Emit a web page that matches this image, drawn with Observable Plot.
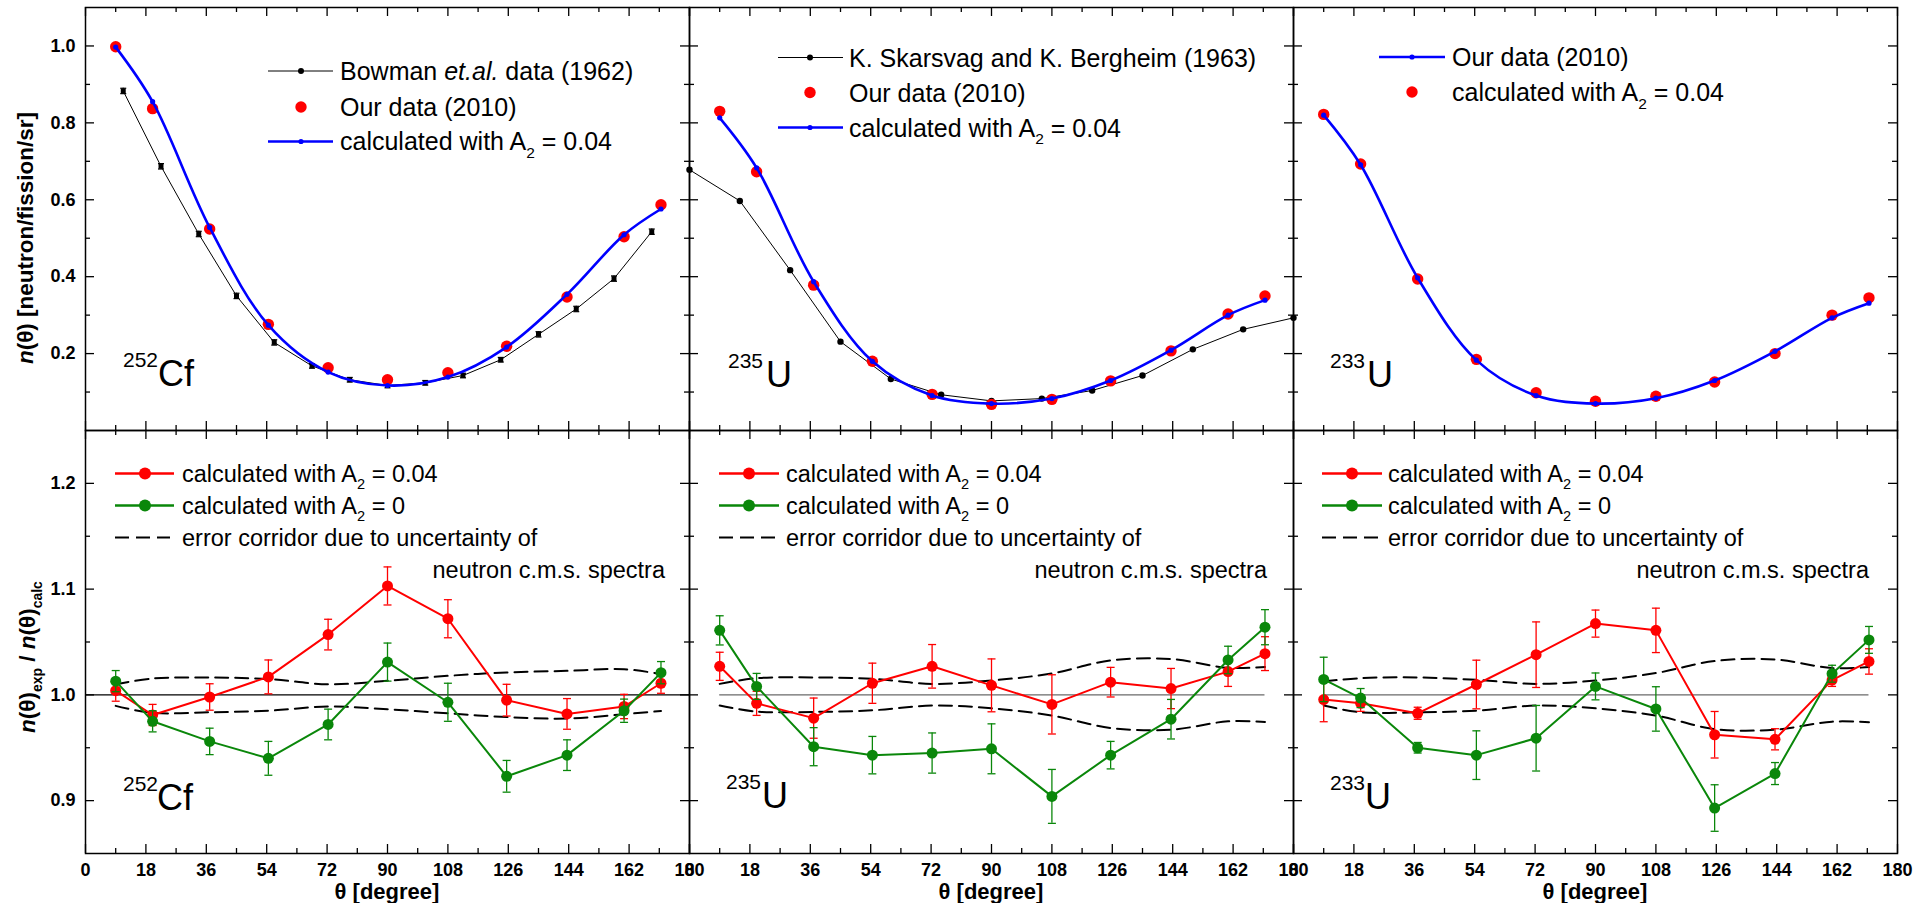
<!DOCTYPE html>
<html><head><meta charset="utf-8">
<script src="https://cdn.jsdelivr.net/npm/d3@7"></script>
<script src="https://cdn.jsdelivr.net/npm/@observablehq/plot@0.6"></script>
<style>
body{margin:0;background:#fff;}
#wrap{position:relative;width:1927px;height:903px;overflow:hidden;background:#fff;}
</style></head><body><div id="wrap"></div>
<script>
// ---------------- DATA ----------------
const angles = [9, 20, 37, 54.5, 72.3, 90, 108, 125.5, 143.5, 160.5, 171.5];

const bowmanAngles = [11.25, 22.5, 33.75, 45, 56.25, 67.5, 78.75, 90, 101.25, 112.5, 123.75, 135, 146.25, 157.5, 168.75];
const bowmanValues = [0.883, 0.687, 0.511, 0.350, 0.229, 0.168, 0.132, 0.117, 0.124, 0.143, 0.184, 0.250, 0.316, 0.395, 0.517];
const bowmanErrors = [0.007, 0.007, 0.007, 0.007, 0.007, 0.006, 0.006, 0.006, 0.006, 0.006, 0.006, 0.007, 0.007, 0.007, 0.007];

const skarsvagAngles = [0, 15, 30, 45, 60, 75, 90, 105, 120, 135, 150, 165, 180];
const skarsvagValues = [0.678, 0.597, 0.417, 0.231, 0.134, 0.093, 0.077, 0.083, 0.104, 0.143, 0.211, 0.263, 0.293];

const cfOur   = [0.998, 0.837, 0.524, 0.276, 0.163, 0.132, 0.150, 0.219, 0.347, 0.504, 0.587];
const cfCalc  = [0.997, 0.855, 0.528, 0.274, 0.152, 0.117, 0.139, 0.217, 0.354, 0.509, 0.576];
const u235Our = [0.830, 0.673, 0.378, 0.180, 0.094, 0.068, 0.081, 0.129, 0.207, 0.303, 0.350];
const u235Calc= [0.813, 0.683, 0.387, 0.180, 0.091, 0.070, 0.083, 0.130, 0.209, 0.300, 0.339];
const u233Our = [0.822, 0.693, 0.394, 0.185, 0.098, 0.076, 0.089, 0.126, 0.200, 0.300, 0.345];
const u233Calc= [0.820, 0.691, 0.397, 0.183, 0.091, 0.070, 0.084, 0.130, 0.206, 0.293, 0.331];

// ratio n(θ)exp / n(θ)calc
const cfRatioA2     = [1.004, 0.981, 0.998, 1.017, 1.057, 1.103, 1.072, 0.995, 0.982, 0.989, 1.011];
const cfRatioA2Err  = [0.010, 0.010, 0.0125, 0.016, 0.0145, 0.018, 0.018, 0.015, 0.0145, 0.0115, 0.0095];
const cfRatioA0     = [1.013, 0.975, 0.956, 0.940, 0.972, 1.031, 0.993, 0.923, 0.943, 0.985, 1.021];
const cfRatioA0Err  = [0.010, 0.010, 0.0125, 0.016, 0.0145, 0.018, 0.018, 0.015, 0.0145, 0.011, 0.0105];
const cfCorrUpper   = [1.010, 1.0155, 1.0164, 1.015, 1.010, 1.0133, 1.018, 1.0212, 1.0227, 1.0243, 1.0196];
const cfCorrLower   = [0.9896, 0.983, 0.9836, 0.985, 0.989, 0.9864, 0.9826, 0.979, 0.9776, 0.9817, 0.9848];

const u235RatioA2    = [1.027, 0.992, 0.978, 1.011, 1.027, 1.009, 0.991, 1.012, 1.006, 1.022, 1.039];
const u235RatioA2Err = [0.0133, 0.0114, 0.019, 0.019, 0.0206, 0.025, 0.028, 0.014, 0.019, 0.014, 0.016];
const u235RatioA0    = [1.061, 1.008, 0.951, 0.943, 0.945, 0.949, 0.904, 0.943, 0.977, 1.033, 1.064];
const u235RatioA0Err = [0.0138, 0.0123, 0.018, 0.0177, 0.019, 0.0236, 0.0255, 0.013, 0.0187, 0.013, 0.0166];
const u235CorrUpper  = [1.0104, 1.0158, 1.0165, 1.0152, 1.0104, 1.0136, 1.0203, 1.0326, 1.0339, 1.0256, 1.0263];
const u235CorrLower  = [0.9899, 0.9842, 0.9839, 0.9854, 0.9899, 0.9873, 0.9804, 0.9687, 0.9671, 0.975, 0.9744];

const u233RatioA2    = [0.9956, 0.992, 0.9826, 1.0098, 1.038, 1.0674, 1.061, 0.9623, 0.958, 1.014, 1.0316];
const u233RatioA2Err = [0.021, 0.0076, 0.0057, 0.023, 0.031, 0.0128, 0.021, 0.022, 0.010, 0.006, 0.012];
const u233RatioA0    = [1.0146, 0.997, 0.950, 0.943, 0.959, 1.008, 0.9867, 0.893, 0.9256, 1.020, 1.052];
const u233RatioA0Err = [0.021, 0.009, 0.005, 0.023, 0.031, 0.0127, 0.021, 0.022, 0.0104, 0.008, 0.0127];
const u233CorrUpper  = [1.0127, 1.0158, 1.0165, 1.0142, 1.0104, 1.0136, 1.0206, 1.032, 1.0335, 1.0253, 1.0263];
const u233CorrLower  = [0.9899, 0.9835, 0.9835, 0.9851, 0.9899, 0.9873, 0.9804, 0.9677, 0.9671, 0.9747, 0.9741];

// ticks
const xTicksMajor = [0, 18, 36, 54, 72, 90, 108, 126, 144, 162, 180];
const xTicksMinor = [9, 27, 45, 63, 81, 99, 117, 135, 153, 171];
const topYTicks = [0.2, 0.4, 0.6, 0.8, 1.0];
const topYMinor = [0.1, 0.3, 0.5, 0.7, 0.9];
const botYTicks = [0.9, 1.0, 1.1, 1.2];
const botYMinor = [0.95, 1.05, 1.15];
const topYDomain = [0, 1.1];
const botYDomain = [0.85, 1.25];

const nuclides = [{mass: "252", sym: "Cf"}, {mass: "235", sym: "U"}, {mass: "233", sym: "U"}];

// ---------------- LAYOUT ----------------
const FONT = '"Liberation Sans", Arial, Helvetica, sans-serif';
const RED = "#ff0000", GREEN = "#0a870a", BLUE = "#0000ff";
const wrap = document.getElementById("wrap");
const colX = [85, 689, 1293];
const rowY = [7, 430];
const innerW = 604, innerH = 423;
const mL = 75, mR = 30, mT = 20, mB = 45;

const capSymbol = {draw(ctx, size) { const w = Math.sqrt(size / Math.PI); ctx.moveTo(-w, 0); ctx.lineTo(w, 0); }};

function frameTicks(yMajor, yMinor) {
  const s = {stroke: "black", strokeWidth: 1.3};
  return [
    Plot.tickX(xTicksMajor, {x: d => d, insetTop: innerH - 9, ...s}),
    Plot.tickX(xTicksMajor, {x: d => d, insetBottom: innerH - 9, ...s}),
    Plot.tickX(xTicksMinor, {x: d => d, insetTop: innerH - 5, ...s}),
    Plot.tickX(xTicksMinor, {x: d => d, insetBottom: innerH - 5, ...s}),
    Plot.tickY(yMajor, {y: d => d, insetRight: innerW - 9, ...s}),
    Plot.tickY(yMajor, {y: d => d, insetLeft: innerW - 9, ...s}),
    Plot.tickY(yMinor, {y: d => d, insetRight: innerW - 5, ...s}),
    Plot.tickY(yMinor, {y: d => d, insetLeft: innerW - 5, ...s})
  ];
}

function panel(row, col, marks) {
  const top = row === 0;
  const yMajor = top ? topYTicks : botYTicks;
  const yMinor = top ? topYMinor : botYMinor;
  const svg = Plot.plot({
    width: innerW + mL + mR, height: innerH + mT + mB,
    marginLeft: mL, marginRight: mR, marginTop: mT, marginBottom: mB,
    style: {background: "transparent", overflow: "visible", fontFamily: FONT, fontSize: "18px", fontWeight: "bold", color: "black"},
    x: {domain: [0, 180], ticks: xTicksMajor, tickFormat: d => String(d), tickSize: 0, tickPadding: 10, label: null, axis: top ? null : "bottom"},
    y: {domain: top ? topYDomain : botYDomain, ticks: yMajor, tickFormat: d => d.toFixed(1), tickSize: 0, tickPadding: 10, label: null, axis: col === 0 ? "left" : null},
    marks: [...marks, Plot.frame({stroke: "black", strokeWidth: 1.5}), ...frameTicks(yMajor, yMinor)]
  });
  svg.style.position = "absolute";
  svg.style.left = (colX[col] - mL) + "px";
  svg.style.top = (rowY[row] - mT) + "px";
  wrap.appendChild(svg);
}

// ---------------- TOP ROW ----------------
function topRows(our, calc) { return angles.map((a, i) => ({a, our: our[i], calc: calc[i]})); }
function ourCalcMarks(rows) {
  return [
    Plot.dot(rows, {x: "a", y: "our", r: 5.7, fill: RED}),
    Plot.line(rows, {x: "a", y: "calc", stroke: BLUE, strokeWidth: 2.6, curve: "catmull-rom"}),
    Plot.dot(rows, {x: "a", y: "calc", r: 2.6, fill: BLUE})
  ];
}
const bow = bowmanAngles.map((a, i) => ({a, v: bowmanValues[i], e: bowmanErrors[i]}));
panel(0, 0, [
  Plot.line(bow, {x: "a", y: "v", stroke: "black", strokeWidth: 1}),
  Plot.ruleX(bow, {x: "a", y1: d => d.v - d.e, y2: d => d.v + d.e, stroke: "black", strokeWidth: 1.2}),
  Plot.dot(bow, {x: "a", y: d => d.v + d.e, symbol: capSymbol, r: 3, stroke: "black", strokeWidth: 1.2}),
  Plot.dot(bow, {x: "a", y: d => d.v - d.e, symbol: capSymbol, r: 3, stroke: "black", strokeWidth: 1.2}),
  Plot.dot(bow, {x: "a", y: "v", symbol: "square", r: 2.8, fill: "black"}),
  ...ourCalcMarks(topRows(cfOur, cfCalc))
]);
const ska = skarsvagAngles.map((a, i) => ({a, v: skarsvagValues[i]}));
panel(0, 1, [
  Plot.line(ska, {x: "a", y: "v", stroke: "black", strokeWidth: 1}),
  Plot.dot(ska, {x: "a", y: "v", r: 3.2, fill: "black"}),
  ...ourCalcMarks(topRows(u235Our, u235Calc))
]);
panel(0, 2, ourCalcMarks(topRows(u233Our, u233Calc)));

// ---------------- BOTTOM ROW ----------------
function ratioMarks(a2, a2e, a0, a0e, up, lo, fullRef) {
  const rows = angles.map((a, i) => ({a, a2: a2[i], a2e: a2e[i], a0: a0[i], a0e: a0e[i], up: up[i], lo: lo[i]}));
  const series = (key, ekey, color) => [
    Plot.ruleX(rows, {x: "a", y1: d => d[key] - d[ekey], y2: d => d[key] + d[ekey], stroke: color, strokeWidth: 1.3}),
    Plot.dot(rows, {x: "a", y: d => d[key] + d[ekey], symbol: capSymbol, r: 4, stroke: color, strokeWidth: 1.3}),
    Plot.dot(rows, {x: "a", y: d => d[key] - d[ekey], symbol: capSymbol, r: 4, stroke: color, strokeWidth: 1.3}),
    Plot.line(rows, {x: "a", y: key, stroke: color, strokeWidth: 2}),
    Plot.dot(rows, {x: "a", y: key, r: 5.5, fill: color})
  ];
  return [
    fullRef ? Plot.ruleY([1], {stroke: "black", strokeWidth: 1.2})
            : Plot.ruleY([1], {x1: () => angles[0], x2: () => angles[angles.length - 1], stroke: "#6a6a6a", strokeWidth: 1.2}),
    Plot.line(rows, {x: "a", y: "up", stroke: "black", strokeWidth: 2, strokeDasharray: "13,7", curve: "catmull-rom"}),
    Plot.line(rows, {x: "a", y: "lo", stroke: "black", strokeWidth: 2, strokeDasharray: "13,7", curve: "catmull-rom"}),
    ...series("a2", "a2e", RED),
    ...series("a0", "a0e", GREEN)
  ];
}
panel(1, 0, ratioMarks(cfRatioA2, cfRatioA2Err, cfRatioA0, cfRatioA0Err, cfCorrUpper, cfCorrLower, true));
panel(1, 1, ratioMarks(u235RatioA2, u235RatioA2Err, u235RatioA0, u235RatioA0Err, u235CorrUpper, u235CorrLower, false));
panel(1, 2, ratioMarks(u233RatioA2, u233RatioA2Err, u233RatioA0, u233RatioA0Err, u233CorrUpper, u233CorrLower, false));

// ---------------- ANNOTATIONS ----------------
const ov = d3.create("svg").attr("width", 1927).attr("height", 903)
  .style("position", "absolute").style("left", "0px").style("top", "0px")
  .style("font-family", FONT).style("white-space", "pre").style("overflow", "visible");
wrap.appendChild(ov.node());

function richText(x, y, parts, size, opts = {}) {
  const t = ov.append("text").attr("x", x).attr("y", y).attr("font-size", size).attr("fill", "black");
  if (opts.anchor) t.attr("text-anchor", opts.anchor);
  if (opts.weight) t.attr("font-weight", opts.weight);
  if (opts.transform) t.attr("transform", opts.transform);
  let shift = 0;
  for (const p of parts) {
    const s = typeof p === "string" ? {t: p} : p;
    const ts = t.append("tspan").text(s.t);
    let target = 0;
    if (s.sub) { target = size * 0.3; ts.attr("font-size", size * 0.62); }
    if (target !== shift) { ts.attr("dy", target - shift); shift = target; }
    if (s.i) ts.attr("font-style", "italic");
  }
  return t;
}

function swatch(x1, x2, xm, y, {line, dot}) {
  if (line) ov.append("line").attr("x1", x1).attr("x2", x2).attr("y1", y).attr("y2", y)
    .attr("stroke", line.stroke).attr("stroke-width", line.width).attr("stroke-dasharray", line.dash || null);
  if (dot) ov.append("circle").attr("cx", xm).attr("cy", y).attr("r", dot.r).attr("fill", dot.fill);
}

const calcA2 = ["calculated with A", {t: "2", sub: true}, " = 0.04"];
const calcA0 = ["calculated with A", {t: "2", sub: true}, " = 0"];
const TOPFS = 25, BOTFS = 23.5;

// top-left legend
swatch(268, 333, 301, 71, {line: {stroke: "black", width: 1}, dot: {r: 3, fill: "black"}});
richText(340, 79.5, ["Bowman ", {t: "et.al.", i: true}, " data (1962)"], TOPFS);
swatch(268, 333, 301, 107, {dot: {r: 5.7, fill: RED}});
richText(340, 115.5, ["Our data (2010)"], TOPFS);
swatch(268, 333, 301, 141.5, {line: {stroke: BLUE, width: 2.6}, dot: {r: 2.6, fill: BLUE}});
richText(340, 150, calcA2, TOPFS);

// top-middle legend
swatch(778, 843, 810, 57.5, {line: {stroke: "black", width: 1}, dot: {r: 3, fill: "black"}});
richText(849, 66.5, ["K. Skarsvag and K. Bergheim (1963)"], TOPFS);
swatch(778, 843, 810, 92.5, {dot: {r: 5.7, fill: RED}});
richText(849, 101.5, ["Our data (2010)"], TOPFS);
swatch(778, 843, 810, 127.5, {line: {stroke: BLUE, width: 2.6}, dot: {r: 2.6, fill: BLUE}});
richText(849, 136.5, calcA2, TOPFS);

// top-right legend
swatch(1379, 1445, 1412, 57, {line: {stroke: BLUE, width: 2.6}, dot: {r: 2.6, fill: BLUE}});
richText(1452, 65.5, ["Our data (2010)"], TOPFS);
swatch(1379, 1445, 1412, 92, {dot: {r: 5.7, fill: RED}});
richText(1452, 101, calcA2, TOPFS);

// bottom legends
const botLeg = [
  {x1: 115, x2: 174, xm: 145, tx: 182, right: 665},
  {x1: 719, x2: 779, xm: 749, tx: 786, right: 1267},
  {x1: 1322, x2: 1382, xm: 1352, tx: 1388, right: 1869}
];
for (const L of botLeg) {
  swatch(L.x1, L.x2, L.xm, 473.5, {line: {stroke: RED, width: 2.5}, dot: {r: 6, fill: RED}});
  richText(L.tx, 482, calcA2, BOTFS);
  swatch(L.x1, L.x2, L.xm, 505.5, {line: {stroke: GREEN, width: 2.5}, dot: {r: 6, fill: GREEN}});
  richText(L.tx, 514, calcA0, BOTFS);
  swatch(L.x1, L.x2 - 4, L.xm, 537.5, {line: {stroke: "black", width: 2, dash: "14,7"}});
  richText(L.tx, 546, ["error corridor due to uncertainty of"], BOTFS);
  richText(L.right, 577.5, ["neutron c.m.s. spectra"], BOTFS, {anchor: "end"});
}

// nuclide labels
const nucPos = [
  [{sx: 123, mx: 158, b: 386}, {sx: 728, mx: 766, b: 387}, {sx: 1330, mx: 1367, b: 387}],
  [{sx: 123, mx: 157, b: 810}, {sx: 726, mx: 762, b: 808}, {sx: 1330, mx: 1365, b: 809}]
];
for (const row of nucPos) row.forEach((p, i) => {
  richText(p.sx, p.b - 19.5, [nuclides[i].mass], 21);
  richText(p.mx, p.b, [nuclides[i].sym], 36);
});

// axis titles
for (let c = 0; c < 3; c++) richText(colX[c] + innerW / 2, 898.5, ["θ [degree]"], 22, {anchor: "middle", weight: "bold"});
richText(0, 0, [{t: "n", i: true}, "(θ) [neutron/fission/sr]"], 22.5, {anchor: "middle", weight: "bold", transform: "translate(33,238) rotate(-90)"});
richText(0, 0, [{t: "n", i: true}, "(θ)", {t: "exp", sub: true}, " / ", {t: "n", i: true}, "(θ)", {t: "calc", sub: true}], 22.5,
  {anchor: "middle", weight: "bold", transform: "translate(35,657) rotate(-90)"});
</script></body></html>
